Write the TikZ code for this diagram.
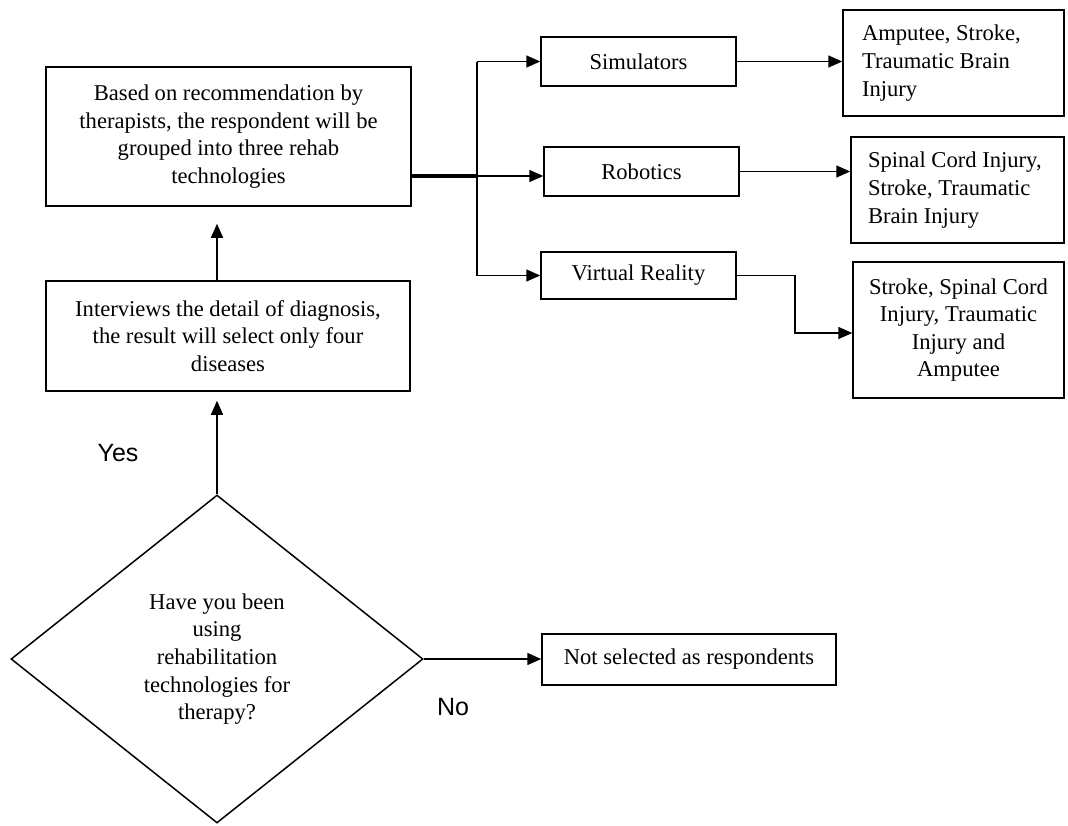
\documentclass[tikz,border=0pt]{standalone}
\usepackage{fontspec}
\setmainfont{Liberation Serif}
\newfontfamily\labelsans{Liberation Sans}
\usetikzlibrary{shapes.geometric,arrows.meta}
\begin{document}
\begin{tikzpicture}[x=0.5pt,y=-0.5pt,
  every node/.style={font=\fontsize{11.3}{13.8}\selectfont},
  stepbox/.style={draw, line width=0.75pt, inner sep=0pt, align=center},
  leftbox/.style={draw, line width=0.75pt, inner ysep=0pt, align=flush left},
  arr/.style={line width=0.75pt, -{Triangle[length=7pt,width=6pt]}},
  link/.style={line width=0.75pt},
  answer/.style={font=\labelsans\fontsize{12.5}{15}\selectfont}]
\useasboundingbox (0,0) rectangle (1068,825);

% left column
\node[stepbox, minimum width=182.5pt, minimum height=69.5pt] (rec) at (228.5,136.5)
  {Based on recommendation by\\therapists, the respondent will be\\grouped into three rehab\\technologies};
\node[stepbox, minimum width=182pt, minimum height=55pt] (intv) at (228,336)
  {Interviews the detail of diagnosis,\\the result will select only four\\diseases};
\node[draw, diamond, line width=0.75pt, minimum width=206pt, minimum height=164pt,
  inner sep=0pt, shape aspect=1.25, align=center] (ask) at (217,659)
  {Have you been\\using\\rehabilitation\\technologies for\\therapy?};

% technology groups
\node[stepbox, minimum width=97.5pt, minimum height=24.5pt] (sim) at (638.5,61.5) {Simulators};
\node[stepbox, minimum width=97.5pt, minimum height=24.5pt] (rob) at (641.5,171.5) {Robotics};
\node[stepbox, minimum width=97.5pt, minimum height=23.5pt] (vr) at (638.5,275.5) {Virtual Reality};

% conditions per technology
\node[leftbox, minimum width=110.5pt, minimum height=53pt, inner xsep=9.5pt, text width=91.5pt] (amp) at (953.5,63)
  {Amputee, Stroke,\\Traumatic Brain\\Injury};
\node[leftbox, minimum width=106.5pt, minimum height=53pt, inner xsep=8.5pt, text width=89.5pt] (sci) at (957.5,190)
  {Spinal Cord Injury,\\Stroke, Traumatic\\Brain Injury};
\node[stepbox, minimum width=105.5pt, minimum height=68pt] (strk) at (958.5,330)
  {Stroke, Spinal Cord\\Injury, Traumatic\\Injury and\\Amputee};

\node[stepbox, minimum width=147pt, minimum height=25.5pt] (nosel) at (689,659.5) {Not selected as respondents};

% answers
\node[answer] (yes) at (118,453) {Yes};
\node[answer] (no) at (453,707) {No};

% connectors
\draw[arr, shorten >=4.5pt] (ask.north) -- (ask.north |- intv.south);
\draw[arr, shorten >=8.5pt] (ask.north |- intv.north) -- (ask.north |- rec.south);
\draw[arr] (ask.east) -- (ask.east -| nosel.west);

\coordinate (split) at (477,176);
\draw[line width=1.8pt] (rec.east |- split) -- (split);
\draw[link] (split |- sim.west) -- (split |- vr.west);
\draw[arr] (split |- sim.west) -- (sim.west);
\draw[arr] (split) -- (split -| rob.west);
\draw[arr] (split |- vr.west) -- (vr.west);

\draw[arr] (sim.east) -- (sim.east -| amp.west);
\draw[arr] (rob.east) -- (rob.east -| sci.west);
\coordinate (bend) at (795,333);
\draw[arr] (vr.east) -| (bend) -- (bend -| strk.west);
\end{tikzpicture}
\end{document}
